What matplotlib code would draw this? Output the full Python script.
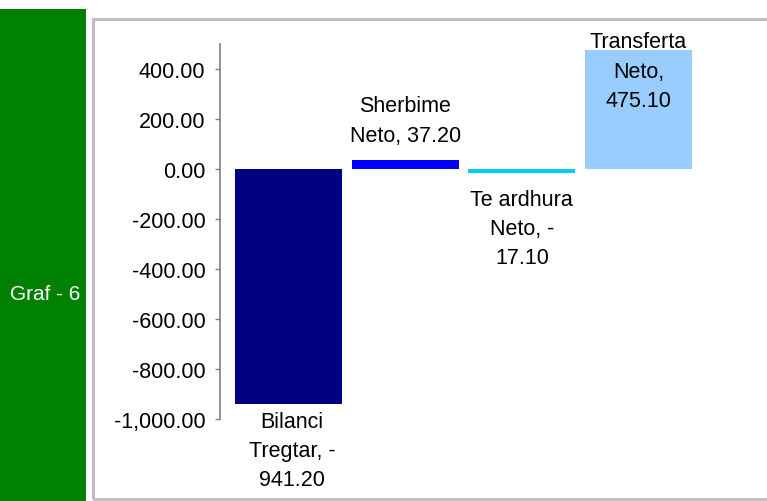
import matplotlib.pyplot as plt
from matplotlib.patches import Rectangle
from matplotlib.ticker import FuncFormatter

plt.rcParams['font.family'] = ['Liberation Sans', 'DejaVu Sans']

labels = ['Bilanci\nTregtar, -\n941.20', 'Sherbime\nNeto, 37.20',
          'Te ardhura\nNeto, -\n17.10', 'Transferta\nNeto,\n475.10']
values = [-941.20, 37.20, -17.10, 475.10]
colors = ['#000080', '#0000FF', '#00CCFF', '#99CCFF']
yticks = [-1000, -800, -600, -400, -200, 0, 200, 400]

W, H = 767, 502
FS = 15.5
LS = 1.52
fig = plt.figure(figsize=(W / 100, H / 100), dpi=100)

# green side panel and gray frame
fig.patches.append(Rectangle((0, 0), 86 / W, 492 / H, transform=fig.transFigure,
                             facecolor='#008000', edgecolor='none', zorder=0))
fig.patches.append(Rectangle((92.5 / W, 2 / H), 700 / W, 480 / H, transform=fig.transFigure,
                             facecolor='none', edgecolor='#C0C0C0', linewidth=2.2, zorder=0))
fig.text(45 / W, 1 - 295 / H, 'Graf - 6', color='white', fontsize=15,
         ha='center', va='center')

ax = fig.add_axes([220 / W, 82 / H, 487 / W, 375 / H])
ax.patch.set_alpha(0)
x = range(len(values))
ax.bar(x, values, width=0.917, color=colors)
ax.set_xlim(-0.587, 3.587)
ax.set_ylim(-1000, 500)
ax.set_yticks(yticks)
ax.yaxis.set_major_formatter(FuncFormatter(lambda v, p: f'{v:,.2f}'))
ax.tick_params(axis='y', labelsize=FS, length=3.6, width=1, color='#808080', pad=7)
ax.set_xticks([])
for s in ['top', 'right', 'bottom']:
    ax.spines[s].set_visible(False)
ax.spines['left'].set_color('#808080')
ax.spines['left'].set_linewidth(1.2)

# data labels
ax.annotate(labels[0], (0.03, values[0]), xytext=(0, -4.5), textcoords='offset points',
            ha='center', va='top', fontsize=FS, linespacing=LS)
ax.annotate(labels[1], (1, values[1]), xytext=(0, 10), textcoords='offset points',
            ha='center', va='bottom', fontsize=FS, linespacing=LS)
ax.annotate(labels[2], (2, values[2]), xytext=(0, -11), textcoords='offset points',
            ha='center', va='top', fontsize=FS, linespacing=LS)
ax.annotate(labels[3], (3, values[3]), xytext=(0, -15), textcoords='offset points',
            ha='center', va='center', fontsize=FS, linespacing=LS)

fig.savefig('out.png', dpi=100)
